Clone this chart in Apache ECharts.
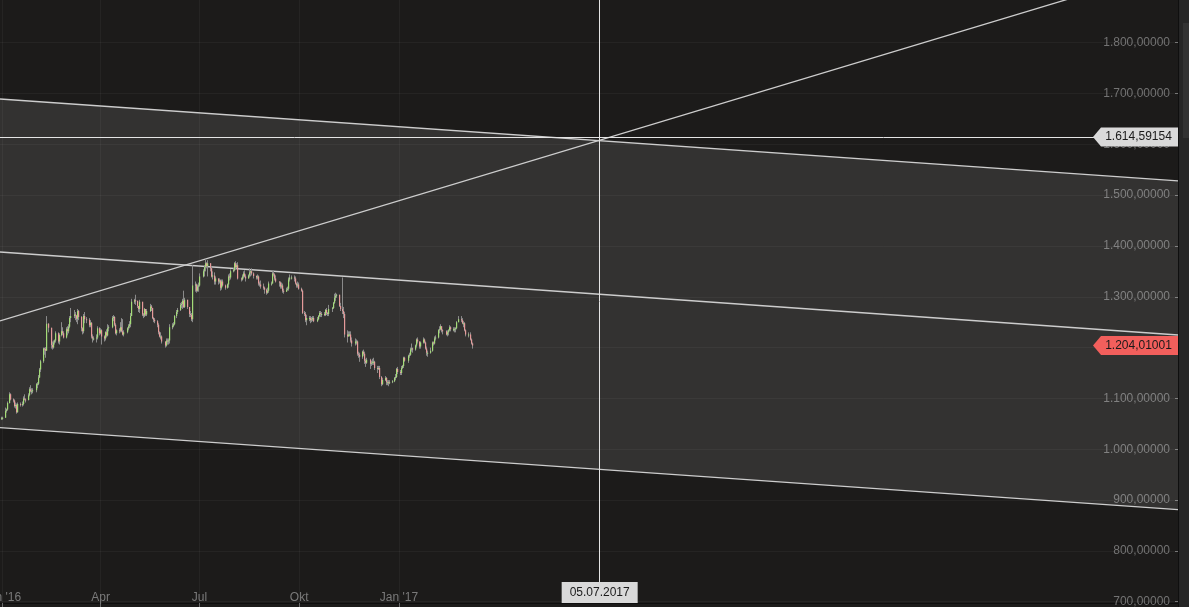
<!DOCTYPE html>
<html>
<head>
<meta charset="utf-8">
<script src="https://cdn.jsdelivr.net/npm/echarts@6/dist/echarts.min.js"></script>
<style>
html,body{margin:0;padding:0;background:#1c1b1a;}
#chart{width:1189px;height:607px;}
</style>
</head>
<body>
<div id="chart"></div>
<script>
// ---------- DATA ----------
// trading months (year, month index, first day)
const months = [[2015,11,31],[2016,0,1],[2016,1,1],[2016,2,1],[2016,3,1],[2016,4,1],[2016,5,1],[2016,6,1],[2016,7,1],[2016,8,1],[2016,9,1],[2016,10,1],[2016,11,1],[2017,0,1],[2017,1,1],[2017,2,1]];
const firstOpen = 1060;
// daily closes per month (weekdays)
const closes = [
 [1061],
 [1062,1075,1078,1091,1108,1098,1096,1085,1087,1073,1089,1088,1089,1100,1098,1097,1106,1118,1114,1115,1116],
 [1128,1129,1141,1157,1173,1198,1197,1194,1247,1239,1205,1200,1210,1214,1228,1212,1225,1232,1228,1220,1236],
 [1232,1241,1258,1262,1265,1263,1257,1272,1260,1238,1232,1262,1256,1255,1244,1249,1222,1218,1218,1220,1238,1228,1234],
 [1222,1218,1230,1224,1238,1240,1258,1260,1245,1228,1234,1233,1240,1232,1226,1230,1238,1242,1246,1262,1290],
 [1293,1292,1282,1276,1290,1265,1263,1276,1265,1272,1281,1278,1258,1255,1252,1245,1230,1222,1222,1212,1204,1214],
 [1212,1214,1240,1243,1246,1262,1270,1274,1284,1286,1292,1280,1294,1280,1266,1264,1256,1322,1324,1312,1320,1322],
 [1340,1350,1358,1366,1360,1366,1356,1340,1342,1330,1336,1330,1332,1318,1330,1322,1318,1324,1340,1338,1350],
 [1352,1366,1358,1362,1336,1334,1340,1346,1340,1336,1342,1348,1350,1346,1341,1338,1340,1326,1324,1320,1318,1314,1308],
 [1312,1326,1326,1346,1344,1336,1330,1328,1320,1322,1312,1310,1314,1316,1334,1338,1338,1336,1326,1322,1324,1316],
 [1312,1268,1266,1254,1258,1258,1254,1256,1258,1252,1256,1262,1268,1266,1266,1264,1274,1268,1266,1276,1278],
 [1288,1298,1302,1304,1282,1276,1272,1266,1226,1222,1226,1226,1214,1208,1212,1212,1188,1186,1182,1192,1188,1174],
 [1170,1176,1168,1170,1172,1172,1160,1158,1160,1142,1128,1136,1140,1132,1132,1130,1132,1134,1140,1142,1158,1152],
 [1150,1160,1164,1180,1174,1184,1186,1196,1198,1196,1204,1216,1212,1202,1210,1216,1210,1198,1190,1190,1194,1210],
 [1208,1218,1220,1234,1236,1242,1234,1232,1226,1230,1234,1240,1236,1236,1236,1238,1250,1256,1254,1248],
 [1248,1234,1226,1226,1216,1208,1204.01001]
];
const highs = [
 [1064],
 [1064,1082,1080,1094,1112,1110,1100,1098,1092,1090,1092,1092,1094,1104,1108,1100,1110,1122,1126,1120,1120],
 [1130,1132,1146,1160,1176,1200,1200,1201,1262,1248,1238,1212,1214,1216,1232,1230,1228,1250,1240,1232,1240],
 [1242,1246,1262,1278,1274,1270,1264,1276,1274,1262,1240,1266,1270,1260,1258,1254,1250,1226,1222,1226,1242,1240,1238],
 [1236,1224,1232,1236,1246,1244,1262,1264,1262,1248,1236,1238,1250,1258,1256,1234,1240,1246,1252,1268,1296],
 [1296,1304,1292,1282,1294,1290,1268,1278,1276,1276,1286,1284,1278,1260,1258,1254,1248,1232,1230,1224,1212,1218],
 [1218,1218,1246,1248,1250,1264,1274,1278,1288,1290,1296,1312,1298,1294,1272,1272,1268,1362,1330,1326,1324,1328],
 [1346,1354,1362,1375,1368,1372,1366,1360,1350,1348,1340,1336,1336,1334,1334,1334,1324,1326,1344,1346,1354],
 [1356,1368,1370,1366,1368,1338,1344,1350,1352,1344,1344,1356,1352,1356,1348,1342,1344,1342,1330,1332,1326,1320,1316],
 [1318,1330,1330,1350,1352,1346,1342,1330,1330,1328,1326,1316,1318,1320,1338,1344,1342,1342,1340,1328,1330,1328],
 [1318,1314,1272,1270,1264,1262,1262,1260,1262,1262,1260,1264,1272,1272,1270,1270,1276,1278,1270,1284,1280],
 [1290,1306,1308,1306,1294,1288,1338,1280,1270,1234,1232,1232,1232,1220,1218,1216,1214,1192,1190,1194,1196,1192],
 [1178,1180,1178,1174,1178,1180,1174,1164,1164,1164,1144,1140,1144,1142,1136,1136,1136,1136,1142,1148,1160,1162],
 [1156,1164,1166,1182,1182,1186,1190,1200,1208,1200,1206,1218,1220,1210,1212,1220,1218,1212,1202,1194,1200,1212],
 [1212,1222,1224,1236,1242,1246,1242,1236,1234,1234,1236,1244,1242,1240,1240,1240,1252,1262,1262,1258],
 [1252,1250,1236,1230,1230,1218,1210]
];
const lows = [
 [1058],
 [1058,1062,1072,1076,1090,1096,1092,1082,1080,1070,1072,1084,1084,1086,1096,1092,1096,1104,1112,1108,1110],
 [1112,1120,1126,1140,1152,1170,1186,1180,1196,1230,1198,1196,1198,1206,1210,1208,1206,1222,1224,1218,1218],
 [1224,1228,1238,1250,1258,1254,1250,1246,1254,1232,1226,1228,1248,1248,1240,1240,1218,1210,1214,1210,1216,1224,1226],
 [1206,1212,1214,1220,1222,1232,1238,1252,1242,1226,1224,1228,1230,1230,1224,1222,1228,1234,1238,1240,1262],
 [1286,1284,1278,1270,1268,1262,1258,1260,1262,1262,1270,1272,1256,1250,1248,1240,1226,1220,1216,1208,1200,1202],
 [1206,1206,1208,1236,1240,1244,1258,1266,1272,1278,1276,1278,1278,1276,1260,1260,1252,1250,1310,1308,1310,1310],
 [1320,1338,1340,1350,1356,1340,1350,1338,1334,1324,1324,1324,1326,1312,1314,1320,1314,1316,1318,1332,1334],
 [1348,1350,1354,1356,1334,1330,1332,1336,1338,1330,1336,1338,1340,1342,1336,1334,1334,1322,1320,1316,1314,1306,1304],
 [1306,1308,1322,1326,1340,1332,1328,1320,1316,1316,1308,1306,1310,1312,1312,1330,1334,1330,1324,1318,1318,1314],
 [1310,1266,1262,1250,1244,1252,1248,1250,1252,1250,1250,1254,1260,1260,1260,1262,1262,1264,1262,1262,1270],
 [1276,1286,1292,1298,1280,1272,1266,1258,1220,1210,1222,1222,1210,1202,1204,1206,1184,1180,1172,1178,1184,1168],
 [1162,1168,1158,1164,1166,1166,1156,1150,1156,1138,1124,1126,1134,1126,1126,1124,1128,1130,1132,1136,1140,1148],
 [1146,1146,1158,1160,1172,1170,1180,1184,1192,1190,1194,1200,1208,1198,1198,1208,1208,1196,1184,1182,1188,1192],
 [1204,1206,1214,1218,1228,1234,1230,1226,1224,1222,1224,1232,1232,1232,1230,1230,1236,1250,1250,1246],
 [1240,1232,1222,1220,1214,1206,1198]
];
// drawn lines: values at the left and right edge of the chart
const channelUpper = [1689.2, 1527.9];
const channelMiddle = [1388.1, 1224.8];
const channelLower = [1042.4, 881.1];
const diagonalLine = [1252.4, 1950.9];
// crosshair
const crossDate = [2017, 6, 5];
const crossValue = 1614.59154;
const lastValue = 1204.01001;
const crossDateLabel = '05.07.2017';
// axis ticks
const yTicks = [700,800,900,1000,1100,1200,1300,1400,1500,1600,1700,1800];
const xTickDates = [[2016,0,1],[2016,3,1],[2016,6,1],[2016,9,1],[2017,0,1]];
const monthNames = ['Jan','Feb','Mär','Apr','Mai','Jun','Jul','Aug','Sep','Okt','Nov','Dez'];

// ---------- SCALE SETTINGS ----------
const DAY = 86400000;
const PX_PER_DAY = 1.0847;
const PLOT_W = 1178;
const X_REF = new Date(2016,0,1).getTime();
const xMin = X_REF - (2 / PX_PER_DAY) * DAY;
const xMax = xMin + (PLOT_W / PX_PER_DAY) * DAY;
const yMin = 697.4, yMax = 1884;

// ---------- BUILD ----------
const candles = [];
let prev = firstOpen;
months.forEach((mm, mi) => {
  const [yy, mo, startDay] = mm;
  const days = [];
  const d = new Date(yy, mo, startDay);
  while (d.getMonth() === mo) {
    const wd = d.getDay();
    if (wd !== 0 && wd !== 6) days.push(d.getTime());
    d.setDate(d.getDate() + 1);
  }
  const cs = closes[mi];
  for (let i = 0; i < cs.length && i < days.length; i++) {
    const o = prev, c = cs[i];
    const h = Math.max(highs[mi][i], o, c);
    const l = Math.min(lows[mi][i], o, c);
    candles.push([days[i], o, c, l, h]);
    prev = c;
  }
});

function deNum(v, dec) {
  const s = v.toFixed(dec);
  const parts = s.split('.');
  return parts[0].replace(/\B(?=(\d{3})+(?!\d))/g, '.') + ',' + parts[1];
}
const crossTime = new Date(crossDate[0], crossDate[1], crossDate[2]).getTime();
const xTicks = xTickDates.map(a => new Date(a[0], a[1], a[2]).getTime());
const FONT = "'Liberation Sans', Arial, sans-serif";

function edgeLine(vals, name) {
  return {
    name: name, type: 'line', z: 3, silent: true, showSymbol: false, clip: true,
    data: [[xMin, vals[0]], [xMax, vals[1]]],
    lineStyle: { color: '#cdcdcd', width: 1.3 },
    animation: false
  };
}

const chart = echarts.init(document.getElementById('chart'), null, { renderer: 'canvas' });
chart.setOption({
  backgroundColor: '#1c1b1a',
  animation: false,
  grid: { left: 0, right: 11, top: 0, bottom: 4, containLabel: false, outerBoundsMode: 'none' },
  xAxis: {
    type: 'value', min: xMin, max: xMax, scale: true,
    axisLine: { show: true, onZero: false, lineStyle: { color: '#0e0e0e', width: 1 } },
    axisTick: { show: true, length: 4, lineStyle: { color: '#6a6a6a' }, customValues: xTicks },
    axisLabel: {
      inside: true, margin: -1, color: '#7a7a7a', fontSize: 12, fontFamily: FONT,
      customValues: xTicks, hideOverlap: false,
      formatter: function (val) {
        const dt = new Date(val);
        const m = dt.getMonth();
        return m === 0 ? "Jan '" + String(dt.getFullYear()).slice(2) : monthNames[m];
      }
    },
    splitLine: { show: true, lineStyle: { color: 'rgba(255,255,255,0.045)', width: 1 } }
  },
  yAxis: {
    type: 'value', position: 'right', min: yMin, max: yMax, scale: true,
    axisLine: { show: false },
    axisTick: { show: true, inside: true, length: 3, lineStyle: { color: '#777' }, customValues: yTicks },
    axisLabel: {
      inside: true, margin: 8, color: '#737373', fontSize: 12, fontFamily: FONT,
      customValues: yTicks, formatter: v => deNum(v, 5)
    },
    splitLine: { show: true, lineStyle: { color: 'rgba(255,255,255,0.045)', width: 1 } }
  },
  series: [
    {
      name: 'band', type: 'custom', z: 1, silent: true, clip: true,
      data: [[xMin, channelLower[0]]],
      encode: { x: 0, y: 1 },
      renderItem: function (params, api) {
        const pts = [
          api.coord([xMin, channelUpper[0]]), api.coord([xMax, channelUpper[1]]),
          api.coord([xMax, channelLower[1]]), api.coord([xMin, channelLower[0]])
        ];
        return { type: 'polygon', shape: { points: pts }, style: { fill: 'rgba(255,255,255,0.1)' } };
      }
    },
    {
      name: 'candles', type: 'custom', z: 4, silent: true,
      data: candles,
      encode: { x: 0, y: [1, 2, 3, 4] },
      renderItem: function (params, api) {
        const t = api.value(0), o = api.value(1), c = api.value(2), l = api.value(3), h = api.value(4);
        const pO = api.coord([t, o]), pC = api.coord([t, c]), pL = api.coord([t, l]), pH = api.coord([t, h]);
        const x = Math.round(pO[0]) + 0.5;
        const top = Math.min(pO[1], pC[1]);
        const hgt = Math.max(1, Math.abs(pO[1] - pC[1]));
        return {
          type: 'group', children: [
            { type: 'line', shape: { x1: x, y1: pH[1], x2: x, y2: pL[1] }, style: { stroke: '#8a8a8a', lineWidth: 1 } },
            { type: 'rect', shape: { x: x - 0.5, y: top, width: 1.2, height: hgt }, style: { fill: c >= o ? '#a4dc78' : '#e69a9a' } }
          ]
        };
      }
    },
    edgeLine(channelUpper, 'upper'),
    edgeLine(channelMiddle, 'middle'),
    edgeLine(channelLower, 'lower'),
    edgeLine(diagonalLine, 'diagonal'),
    {
      name: 'cross', type: 'line', z: 6, silent: true, showSymbol: false,
      data: [],
      markLine: {
        silent: true, symbol: ['none', 'none'], animation: false,
        label: { show: false },
        lineStyle: { color: '#e4e4e4', width: 1, type: 'solid' },
        data: [{ xAxis: crossTime }, { yAxis: crossValue }]
      },
      markPoint: {
        silent: true, animation: false,
        data: [
          {
            coord: [xMax, crossValue],
            symbol: 'path://M0,9.5L8,0L85,0L85,19L8,19Z', symbolSize: [85, 19], symbolOffset: ['-50%', 0],
            itemStyle: { color: '#d9d9d9' },
            label: { show: true, position: 'inside', offset: [3, 0], formatter: deNum(crossValue, 5), color: '#1a1a1a', fontSize: 12, fontFamily: FONT }
          },
          {
            coord: [xMax, lastValue],
            symbol: 'path://M0,9.5L8,0L85,0L85,19L8,19Z', symbolSize: [85, 19], symbolOffset: ['-50%', 0],
            itemStyle: { color: '#f25f5c' },
            label: { show: true, position: 'inside', offset: [3, 0], formatter: deNum(lastValue, 5), color: '#1a1a1a', fontSize: 12, fontFamily: FONT }
          },
          {
            coord: [crossTime, yMin],
            symbol: 'rect', symbolSize: [76, 21], symbolOffset: [0, -10.5],
            itemStyle: { color: '#d9d9d9' },
            label: { show: true, position: 'inside', formatter: crossDateLabel, color: '#1a1a1a', fontSize: 12, fontFamily: FONT }
          }
        ]
      }
    }
  ],
  graphic: [
    { type: 'rect', left: 1178, top: 0, shape: { width: 11, height: 607 }, style: { fill: '#262626' }, z: 100 },
    { type: 'rect', left: 1178, top: 0, shape: { width: 1, height: 607 }, style: { fill: '#0f0f0f' }, z: 101 },
    { type: 'rect', left: 1183, top: 23, shape: { width: 6, height: 115 }, style: { fill: '#323232' }, z: 101 }
  ]
});
</script>
</body>
</html>
